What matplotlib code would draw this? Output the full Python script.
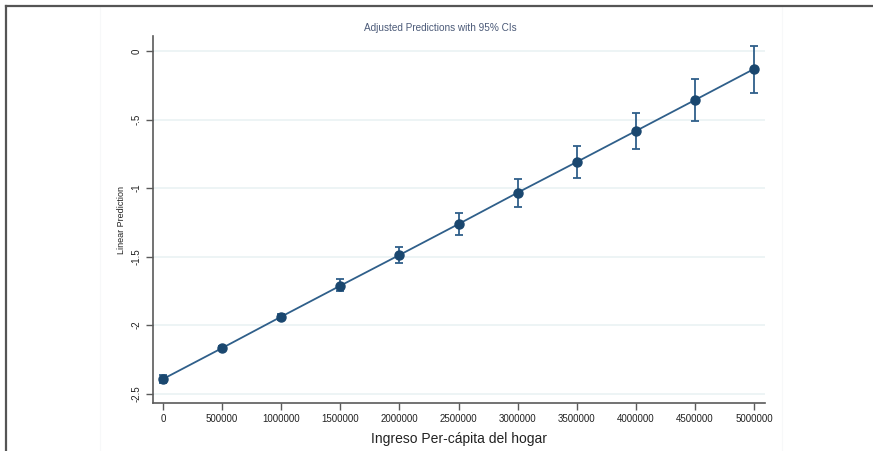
import numpy as np
import matplotlib.pyplot as plt
from matplotlib.lines import Line2D
from matplotlib.patches import Rectangle

plt.rcParams['font.family'] = ['Liberation Sans', 'DejaVu Sans']

# margins of income (per-capita household income)
ingreso = [0, 500000, 1000000, 1500000, 2000000, 2500000,
           3000000, 3500000, 4000000, 4500000, 5000000]
pred = [-2.394, -2.168, -1.939, -1.713, -1.489, -1.263,
        -1.034, -0.810, -0.584, -0.358, -0.131]
ci_lo = [-2.420, -2.185, -1.962, -1.755, -1.550, -1.343,
         -1.136, -0.927, -0.718, -0.511, -0.304]
ci_hi = [-2.368, -2.151, -1.916, -1.664, -1.428, -1.180,
         -0.937, -0.693, -0.450, -0.204, 0.039]

yticks = [0, -0.5, -1, -1.5, -2, -2.5]
ytick_labels = ['0', '-.5', '-1', '-1.5', '-2', '-2.5']
xticks = ingreso
xtick_labels = [str(v) for v in ingreso]

navy = '#1a476f'
gris = '#5a5a5a'

fig = plt.figure(figsize=(8.73, 4.51), dpi=100)

# outer frame (top and left edges only visible)
fig.add_artist(Line2D([5.5/873, 5.5/873], [0, 1 - 5.5/451], color='#555555', lw=1.6))
fig.add_artist(Line2D([5.5/873, 1], [1 - 5.5/451, 1 - 5.5/451], color='#555555', lw=1.6))
# faint graph region
fig.add_artist(Rectangle((100/873, -0.01), (782-100)/873, 1 - 6/451 + 0.01,
                         transform=fig.transFigure, fill=False, ec='#f7f8f9', lw=0.8))

ax = fig.add_axes([153/873, 48/451, (765-153)/873, (403-36)/451])

yerr = [np.array(pred) - np.array(ci_lo), np.array(ci_hi) - np.array(pred)]
ax.plot(ingreso, pred, color='#2f5f8a', lw=1.3, zorder=3)
ax.errorbar(ingreso, pred, yerr=yerr, fmt='none', ecolor='#2f5f8a',
            elinewidth=1.3, capsize=3.2, capthick=1.3, zorder=3)
ax.plot(ingreso, pred, 'o', color=navy, ms=6.5, zorder=4)

ax.set_xlim(-84600, 5093000)
ax.set_ylim(-2.569, 0.1095)

ax.set_yticks(yticks)
ax.set_yticklabels(ytick_labels, rotation=90, va='center')
ax.set_xticks(xticks)
ax.set_xticklabels(xtick_labels)

ax.grid(axis='y', color='#eaf2f3', lw=1.2, zorder=0)
ax.set_axisbelow(True)

for s in ['top', 'right']:
    ax.spines[s].set_visible(False)
for s in ['left', 'bottom']:
    ax.spines[s].set_color(gris)
    ax.spines[s].set_linewidth(1.2)

ax.tick_params(axis='both', direction='out', length=5, width=1, color=gris,
               labelsize=7, labelcolor='#222222', pad=3)

ax.set_ylabel('Linear Prediction', fontsize=6.5, color='#222222', labelpad=4)
ax.set_xlabel('Ingreso Per-cápita del hogar', fontsize=10, color='#222222', labelpad=6)
fig.text(440/873, 1 - 28/451, 'Adjusted Predictions with 95% CIs', fontsize=7.2,
         color='#4b5a78', ha='center', va='center')

plt.savefig('out.png', dpi=100)
